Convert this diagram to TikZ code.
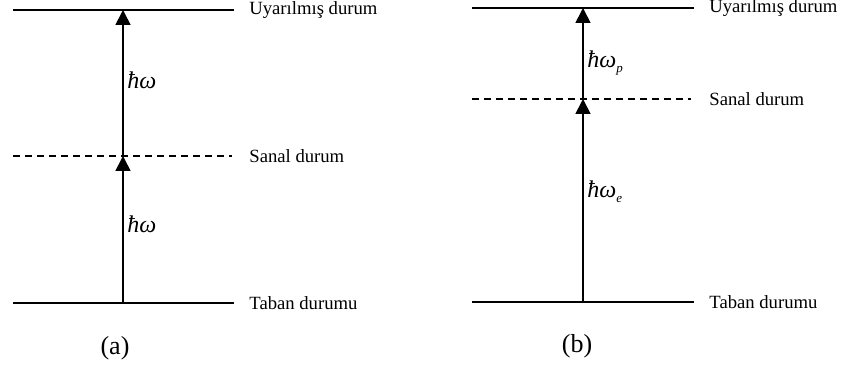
\documentclass[tikz,border=0pt]{standalone}
\usepackage{fontspec}
\setmainfont{Liberation Serif}
\usetikzlibrary{arrows.meta}
\newcommand{\lowsub}[1]{\raisebox{-2.5pt}{\fontsize{6.5pt}{6.5pt}\selectfont #1}}
\begin{document}
\begin{tikzpicture}[x=0.5pt,y=-0.5pt,
  level/.style={line width=1pt},
  virt/.style={line width=0.85pt, dash pattern=on 3.5pt off 2.5pt},
  trans/.style={line width=0.85pt, -{Triangle[width=7.5pt,length=7.5pt]}},
  lbl/.style={anchor=west, inner sep=0pt, font=\fontsize{9.33pt}{11pt}\selectfont},
  eng/.style={anchor=base west, inner sep=0pt, font=\fontsize{12pt}{14pt}\selectfont\itshape},
  subcap/.style={inner sep=0pt, font=\fontsize{13pt}{15pt}\selectfont}]
\useasboundingbox (0,0) rectangle (842,369);

% ---------- (a) ----------
\coordinate (aTL) at (13,10);   \coordinate (aTR) at (234,10);
\coordinate (aML) at (13,156);  \coordinate (aMR) at (232,156);
\coordinate (aBL) at (13,303);  \coordinate (aBR) at (234,303);
\coordinate (aTop) at (123,10);
\coordinate (aMid) at (123,156);
\coordinate (aBot) at (123,303);

\draw[level] (aTL) -- (aTR);
\draw[virt]  (aML) -- (aMR);
\draw[level] (aBL) -- (aBR);
\draw[trans] (aBot) -- (aMid);
\draw[trans] (aMid) -- (aTop);

\node[lbl] (aUy) at (249,10)  {Uyarılmış durum};
\node[lbl] (aSa) at (249,156) {Sanal durum};
\node[lbl] (aTa) at (249,303) {Taban durumu};
\node[eng] (aE1) at (127,89)  {ħω};
\node[eng] (aE2) at (127,233) {ħω};
\node[subcap] (aCap) at (115,348) {(a)};

% ---------- (b) ----------
\coordinate (bTL) at (472,8);   \coordinate (bTR) at (694,8);
\coordinate (bML) at (472,99);  \coordinate (bMR) at (691,99);
\coordinate (bBL) at (472,302); \coordinate (bBR) at (694,302);
\coordinate (bTop) at (583,8);
\coordinate (bMid) at (583,99);
\coordinate (bBot) at (583,302);

\draw[level] (bTL) -- (bTR);
\draw[virt]  (bML) -- (bMR);
\draw[level] (bBL) -- (bBR);
\draw[trans] (bBot) -- (bMid);
\draw[trans] (bMid) -- (bTop);

\node[lbl] (bUy) at (709,8)   {Uyarılmış durum};
\node[lbl] (bSa) at (709,99)  {Sanal durum};
\node[lbl] (bTa) at (709,302) {Taban durumu};
\node[eng] (bEp) at (587,68)  {ħω\lowsub{p}};
\node[eng] (bEe) at (587,198) {ħω\lowsub{e}};
\node[subcap] (bCap) at (577,346) {(b)};
\end{tikzpicture}
\end{document}
